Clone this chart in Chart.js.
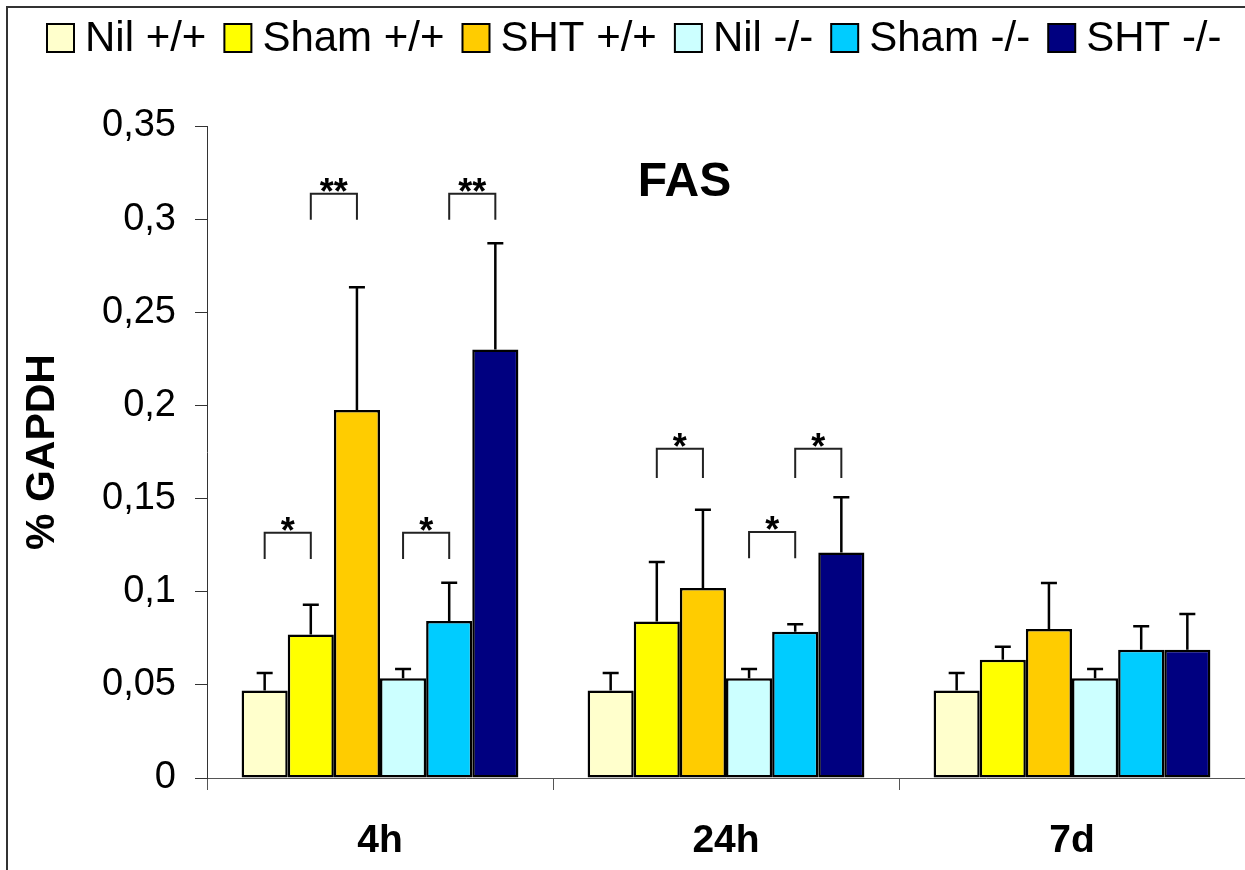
<!DOCTYPE html>
<html>
<head>
<meta charset="utf-8">
<script src="https://cdn.jsdelivr.net/npm/chart.js@4"></script>
<style>
  html, body { margin: 0; padding: 0; background: #fff; }
  #wrap { width: 1245px; height: 870px; }
</style>
</head>
<body>
<div id="wrap"><canvas id="myChart" width="1245" height="870"></canvas></div>
<script>
// timepoints and groups
const categories = ['4h', '24h', '7d'];
const groups = ['Nil +/+', 'Sham +/+', 'SHT +/+', 'Nil -/-', 'Sham -/-', 'SHT -/-'];
const colors = ['#FFFFCC', '#FFFF00', '#FFCC00', '#CCFFFF', '#00CCFF', '#000080'];

// means (% GAPDH)
const nilWt    = [0.047, 0.047, 0.047];
const shamWt   = [0.077, 0.084, 0.0635];
const shtWt    = [0.1975, 0.102, 0.080];
const nilKo    = [0.0535, 0.0535, 0.0535];
const shamKo   = [0.0843, 0.0785, 0.0688];
const shtKo    = [0.230, 0.121, 0.0688];

// upper error (SD)
const nilWtSd  = [0.0093, 0.0093, 0.0093];
const shamWtSd = [0.016, 0.032, 0.007];
const shtWtSd  = [0.066, 0.042, 0.0247];
const nilKoSd  = [0.005, 0.005, 0.005];
const shamKoSd = [0.0205, 0.0041, 0.0127];
const shtKoSd  = [0.057, 0.0297, 0.0192];

const yTicks = [0, 0.05, 0.1, 0.15, 0.2, 0.25, 0.3, 0.35];

// significance brackets: category index, from group, to group, top, leg bottom, label
const brackets = [
  [0, 0, 1, 0.1316, 0.1176, '*'],
  [0, 1, 2, 0.3136, 0.2997, '**'],
  [0, 3, 4, 0.1316, 0.1176, '*'],
  [0, 4, 5, 0.3136, 0.2997, '**'],
  [1, 1, 2, 0.1767, 0.1610, '*'],
  [1, 3, 4, 0.1320, 0.1180, '*'],
  [1, 4, 5, 0.1767, 0.1610, '*']
];

const means = [nilWt, shamWt, shtWt, nilKo, shamKo, shtKo];
const sds = [nilWtSd, shamWtSd, shtWtSd, nilKoSd, shamKoSd, shtKoSd];

const FONT = "'Liberation Sans', Arial, Helvetica, sans-serif";
Chart.defaults.font.family = FONT;
Chart.defaults.color = '#000';

const frame = {
  id: 'frame',
  beforeDraw(chart) {
    const ctx = chart.ctx;
    ctx.save();
    ctx.strokeStyle = '#333';
    ctx.lineWidth = 2;
    ctx.strokeRect(7, 7, chart.width + 50, chart.height + 50);
    ctx.restore();
  }
};

// legend row along the top, Excel style (box, small gap, text)
const topLegend = {
  id: 'topLegend',
  afterDraw(chart) {
    const ctx = chart.ctx;
    ctx.save();
    ctx.font = '42px ' + FONT;
    ctx.textAlign = 'left';
    ctx.textBaseline = 'middle';
    let x = 47;
    chart.data.datasets.forEach(ds => {
      ctx.fillStyle = ds.backgroundColor;
      ctx.fillRect(x, 24, 27, 28);
      ctx.strokeStyle = '#000';
      ctx.lineWidth = 2;
      ctx.strokeRect(x, 24, 27, 28);
      ctx.fillStyle = '#000';
      ctx.fillText(ds.label, x + 38, 39);
      x += 38 + ctx.measureText(ds.label).width + 18;
    });
    ctx.restore();
  }
};

const extras = {
  id: 'extras',
  afterDatasetsDraw(chart) {
    const ctx = chart.ctx;
    const y = chart.scales.y;
    ctx.save();

    // error bars
    ctx.strokeStyle = '#000';
    ctx.lineWidth = 2.5;
    chart.data.datasets.forEach((ds, di) => {
      const meta = chart.getDatasetMeta(di);
      meta.data.forEach((bar, i) => {
        const top = y.getPixelForValue(ds.data[i] + sds[di][i]);
        ctx.beginPath();
        ctx.moveTo(bar.x, bar.y);
        ctx.lineTo(bar.x, top);
        ctx.moveTo(bar.x - 8, top);
        ctx.lineTo(bar.x + 8, top);
        ctx.stroke();
      });
    });

    // significance brackets
    ctx.strokeStyle = '#222';
    ctx.lineWidth = 2;
    ctx.fillStyle = '#000';
    ctx.font = 'bold 36px ' + FONT;
    ctx.textAlign = 'center';
    ctx.textBaseline = 'alphabetic';
    brackets.forEach(([c, a, b, top, bottom, label]) => {
      const x1 = chart.getDatasetMeta(a).data[c].x;
      const x2 = chart.getDatasetMeta(b).data[c].x;
      const yt = y.getPixelForValue(top);
      const yb = y.getPixelForValue(bottom);
      ctx.beginPath();
      ctx.moveTo(x1, yb);
      ctx.lineTo(x1, yt);
      ctx.lineTo(x2, yt);
      ctx.lineTo(x2, yb);
      ctx.stroke();
      ctx.fillText(label, (x1 + x2) / 2, yt + 10);
    });

    // panel title
    const area = chart.chartArea;
    ctx.font = 'bold 48px ' + FONT;
    ctx.textBaseline = 'middle';
    ctx.fillText('FAS', area.left + (area.right - area.left) * 0.46, y.getPixelForValue(0.3195));
    ctx.restore();
  }
};

const ctx = document.getElementById('myChart').getContext('2d');

new Chart(ctx, {
  type: 'bar',
  data: {
    labels: categories,
    datasets: groups.map((g, i) => ({
      label: g,
      data: means[i],
      backgroundColor: colors[i],
      borderColor: '#000',
      borderWidth: 2.5,
      borderSkipped: false,
      categoryPercentage: 0.8,
      barPercentage: 1.0
    }))
  },
  options: {
    responsive: false,
    animation: false,
    devicePixelRatio: 1,
    layout: { padding: { top: 126, left: 0, right: 0, bottom: 0 } },
    plugins: {
      legend: { display: false },
      tooltip: { enabled: false }
    },
    scales: {
      x: {
        afterFit(scale) { scale.height = 92; },
        grid: { drawOnChartArea: false, drawTicks: true, tickLength: 12, color: '#555', offset: true },
        border: { color: '#555', width: 1 },
        ticks: { font: { size: 39, weight: 'bold' }, color: '#000', padding: 28 }
      },
      y: {
        min: 0,
        max: 0.35,
        afterFit(scale) { scale.width = 207; },
        afterBuildTicks(scale) { scale.ticks = yTicks.map(v => ({ value: v })); },
        grid: { drawOnChartArea: false, drawTicks: true, tickLength: 12, color: '#333' },
        border: { color: '#333', width: 1 },
        ticks: {
          font: { size: 38 },
          color: '#000',
          padding: 19,
          callback: v => String(Math.round(v * 100) / 100).replace('.', ',')
        },
        title: {
          display: true,
          text: '% GAPDH',
          font: { size: 41, weight: 'bold' },
          color: '#000',
          padding: { top: 18, bottom: 0 }
        }
      }
    }
  },
  plugins: [frame, topLegend, extras]
});
</script>
</body>
</html>
